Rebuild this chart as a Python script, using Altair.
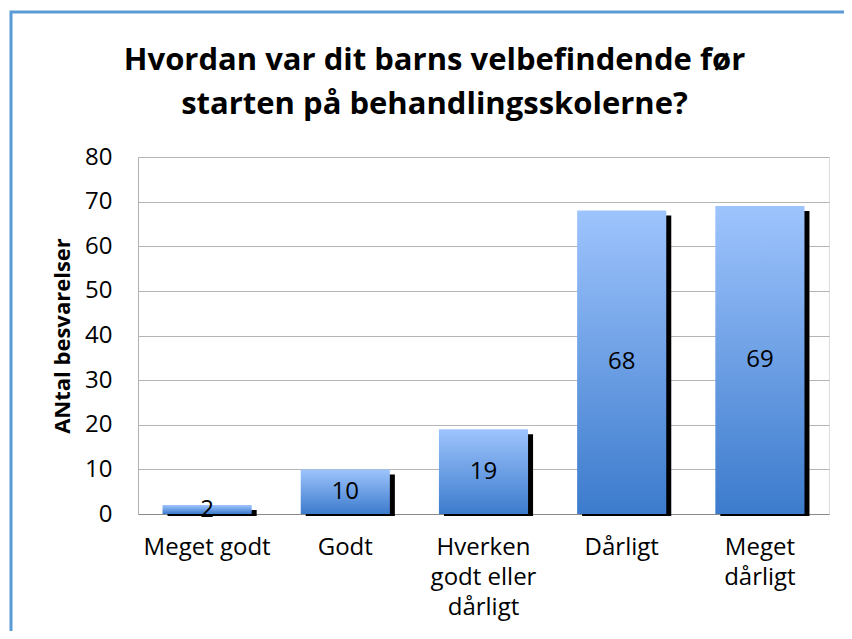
import json
import altair as alt
import pandas as pd

# ---- data ----
categories = ["Meget godt", "Godt", "Hverken godt eller dårligt", "Dårligt", "Meget dårligt"]
label_lines = [["Meget godt"], ["Godt"], ["Hverken", "godt eller", "dårligt"], ["Dårligt"], ["Meget", "dårligt"]]
counts = [2, 10, 19, 68, 69]
y_ticks = [0, 10, 20, 30, 40, 50, 60, 70, 80]
title_lines = ["Hvordan var dit barns velbefindende før", "starten på behandlingsskolerne?"]
y_title = "ANtal besvarelser"

df = pd.DataFrame({"kategori": categories, "antal": counts})

FONT = "Open Sans"

# multi-line x labels
expr = "datum.value"
for cat, lines in reversed(list(zip(categories, label_lines))):
    expr = f"datum.value == {json.dumps(cat)} ? {json.dumps(lines)} : ({expr})"

x_enc = alt.X(
    "kategori:N",
    sort=categories,
    scale=alt.Scale(paddingInner=0.355, paddingOuter=0.1775),
    axis=alt.Axis(
        title=None,
        labelAngle=0,
        labelExpr=expr,
        labelFont=FONT,
        labelFontSize=24,
        labelColor="black",
        labelLineHeight=30,
        labelPadding=21,
        labelBaseline="top",
        ticks=False,
        tickSize=0,
        domain=True,
        domainColor="#8a8a8a",
        domainWidth=1,
        grid=False,
    ),
)

y_scale = alt.Scale(domain=[0, 80], nice=False)

y_enc = alt.Y(
    "antal:Q",
    scale=y_scale,
    axis=alt.Axis(
        title=y_title,
        values=y_ticks,
        titleFont=FONT,
        titleFontSize=22,
        titleFontWeight="bold",
        titleColor="black",
        titlePadding=10,
        labelFont=FONT,
        labelFontSize=24,
        labelColor="black",
        labelPadding=26,
        ticks=False,
        tickSize=0,
        domain=True,
        domainColor="#b0b0b0",
        grid=True,
        gridColor="#b4b4b4",
        gridWidth=1,
    ),
)

base = alt.Chart(df)

shadow = base.mark_bar(color="black", xOffset=5, yOffset=5, y2Offset=2).encode(
    x=x_enc, y=y_enc, y2=alt.datum(0)
)

bars = base.mark_bar(
    color=alt.Gradient(
        gradient="linear",
        stops=[
            alt.GradientStop(color="#9ec4fd", offset=0),
            alt.GradientStop(color="#3c7bcc", offset=1),
        ],
        x1=0, x2=0, y1=0, y2=1,
    )
).encode(x=x_enc, y=y_enc, y2=alt.datum(0))

labels = base.transform_calculate(mid="datum.antal / 2").mark_text(
    font=FONT, fontSize=24, color="black", baseline="middle", align="center"
).encode(
    x=alt.X("kategori:N", sort=categories),
    y=alt.Y("mid:Q", scale=y_scale),
    text=alt.Text("antal:Q"),
)

border = alt.Chart(pd.DataFrame({"b": [0]})).mark_rect(
    fill="transparent", stroke="#5b9bd5", strokeWidth=3
).encode(
    x=alt.value(-127), x2=alt.value(900), y=alt.value(-145), y2=alt.value(700)
)

title = alt.Chart(pd.DataFrame({"t": [title_lines]})).mark_text(
    font=FONT, fontSize=31, fontWeight="bold", color="black",
    align="center", baseline="alphabetic", lineHeight=44,
).encode(
    x=alt.value(296.5), y=alt.value(-87), text="t"
)

chart = alt.layer(border, shadow, bars, labels, title).properties(
    width=691,
    height=357,
    autosize=alt.AutoSizeParams(type="none"),
    padding={"left": 130, "top": 149, "right": 15, "bottom": 117},
).configure_view(strokeWidth=0).configure(background="white")

chart.save("out.html", embed_options={"renderer": "svg", "actions": False})
